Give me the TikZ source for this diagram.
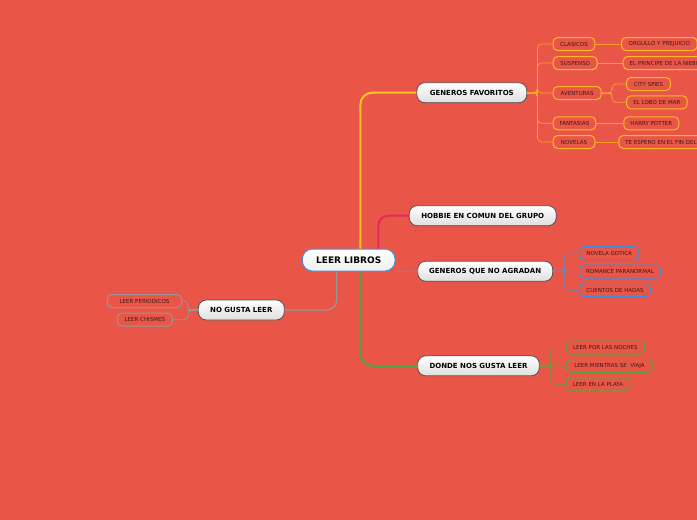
\documentclass[tikz,border=0pt]{standalone}
\usepackage{fontspec}
\setmainfont{DejaVu Sans}
\definecolor{bg}{RGB}{233,86,72}
\definecolor{leaftext}{RGB}{60,25,20}
\definecolor{cyel}{RGB}{252,196,36}
\definecolor{corange}{RGB}{245,160,40}
\definecolor{cyelborder}{RGB}{253,186,40}
\definecolor{cpink}{RGB}{230,38,94}
\definecolor{cblueline}{RGB}{110,135,180}
\definecolor{cblueborder}{RGB}{60,140,222}
\definecolor{cgreen}{RGB}{80,160,70}
\definecolor{colive}{RGB}{120,150,60}
\definecolor{cgreenborder}{RGB}{90,165,60}
\definecolor{cgray}{RGB}{150,150,150}
\definecolor{cnodeborder}{RGB}{80,80,80}
\definecolor{crootborder}{RGB}{75,143,213}
\begin{document}
\begin{tikzpicture}[x=1pt,y=-1pt,
  mainnode/.style={draw=cnodeborder, line width=0.8, rounded corners=8, top color=white, bottom color=gray!25, minimum height=20, inner sep=0, font=\bfseries\fontsize{7}{8}\selectfont, text=black},
  rootnode/.style={draw=crootborder, line width=1, rounded corners=10, top color=white, bottom color=gray!12, minimum height=22, inner sep=0, font=\bfseries\fontsize{9}{10}\selectfont, text=black},
  leaf/.style={line width=1, rounded corners=4.5, minimum height=13, inner xsep=6.5, inner ysep=0, font=\fontsize{5.5}{6}\selectfont, text=leaftext, fill=bg, anchor=west},
  yleaf/.style={leaf, draw=cyelborder},
  bleaf/.style={leaf, draw=cblueborder},
  gleaf/.style={leaf, draw=cgreenborder},
  grleaf/.style={leaf, draw=cgray, anchor=center},
  thinline/.style={line width=0.8, rounded corners=4},
]
\useasboundingbox (0,0) rectangle (697,520);
\fill[bg] (0,0) rectangle (697,520);
\clip (0,0) rectangle (697,520);

% main nodes
\node[rootnode, minimum width=92.7] (root) at (348.7,260) {LEER LIBROS};
\node[mainnode, minimum width=110] (gf) at (471.8,92.7) {GENEROS FAVORITOS};
\node[mainnode, minimum width=147] (hob) at (482.7,215.7) {HOBBIE EN COMUN DEL GRUPO};
\node[mainnode, minimum width=135] (gq) at (485.2,271.2) {GENEROS QUE NO AGRADAN};
\node[mainnode, minimum width=121.6] (dn) at (478.5,365.8) {DONDE NOS GUSTA LEER};
\node[mainnode, minimum width=86] (ngl) at (241.3,310) {NO GUSTA LEER};

% generos favoritos leaves
\node[yleaf, minimum width=41.6] (cla) at (552.7,44) {CLASICOS};
\node[yleaf, minimum width=75.7] (org) at (621,44) {ORGULLO Y PREJUICIO};
\node[yleaf, minimum width=44] (sus) at (552.7,63) {SUSPENSO};
\node[yleaf] (pri) at (622.7,63) {EL PRINCIPE DE LA NIEBLA};
\node[yleaf, minimum width=48] (ave) at (552.7,93) {AVENTURAS};
\node[yleaf, minimum width=44] (city) at (626,84) {CITY SPIES};
\node[yleaf, minimum width=60.7] (lobo) at (626,102.3) {EL LOBO DE MAR};
\node[yleaf, minimum width=41.6] (fan) at (552.7,123.3) {FANTASIAS};
\node[yleaf, minimum width=55] (har) at (623.3,123.3) {HARRY POTTER};
\node[yleaf, minimum width=41.6] (nov) at (552.7,142) {NOVELAS};
\node[yleaf] (te) at (618.3,142) {TE ESPERO EN EL FIN DEL MUNDO};

% generos que no agradan leaves
\node[bleaf, minimum width=59.3] (got) at (579,253) {NOVELA GOTICA};
\node[bleaf, minimum width=81] (rom) at (579,271.7) {ROMANCE PARANORMAL};
\node[bleaf, minimum width=71] (cue) at (579,290.2) {CUENTOS DE HADAS};

% donde nos gusta leer leaves
\node[gleaf, minimum width=78.3] (noc) at (565.7,347.5) {LEER POR LAS NOCHES};
\node[gleaf, minimum width=86.6] (via) at (565.7,366) {LEER MIENTRAS SE\ \ VIAJA};
\node[gleaf, minimum width=63.6] (pla) at (565.7,384.3) {LEER EN LA PLAYA};

% no gusta leer leaves
\node[grleaf, minimum width=74.4] (per) at (144.5,301) {LEER PERIODICOS};
\node[grleaf, minimum width=55] (chi) at (144.8,319.7) {LEER CHISMES};

% root connectors
\draw[cyel, line width=2, rounded corners=12] ([xshift=11.6]root.north) |- (gf.west);
\draw[cpink, line width=2, rounded corners=10] ([xshift=29.6]root.north) |- (hob.west);
\draw[cblueline, line width=1] (root.south east) -- (gq.west);
\draw[cgreen, line width=2, rounded corners=12] ([xshift=11.6]root.south) |- (dn.west);
\draw[cgray, line width=1.2, rounded corners=10] ([xshift=-12]root.south) |- (ngl.east);

% generos favoritos branches
\draw[cyel, line width=2] (gf.east) -- ++(10.3,0) coordinate (gfbus);
\foreach \n in {cla,sus,ave,fan,nov}
  \draw[corange, thinline] (gf.east) -- (gfbus) |- (\n.west);
\draw[corange, thinline] (cla.east) -- (org.west);
\draw[corange, thinline] (sus.east) -- (pri.west);
\draw[corange, thinline] (fan.east) -- (har.west);
\draw[corange, thinline] (nov.east) -- (te.west);
\draw[corange, thinline] (ave.east) -- ++(10.5,0) coordinate (avebus);
\foreach \n in {city,lobo}
  \draw[corange, thinline] (ave.east) -- (avebus) |- (\n.west);

% generos que no agradan branches
\draw[cblueline, line width=1.2] (gq.east) -- ++(11,0) coordinate (gqbus);
\foreach \n in {got,rom,cue}
  \draw[cblueline, thinline] (gq.east) -- (gqbus) |- (\n.west);

% donde nos gusta leer branches
\draw[colive, line width=1.5] (dn.east) -- ++(11,0) coordinate (dnbus);
\foreach \n in {noc,via,pla}
  \draw[colive, thinline] (dn.east) -- (dnbus) |- (\n.west);

% no gusta leer branches
\draw[cgray, line width=1.2] (ngl.west) -- ++(-10,0) coordinate (nglbus);
\foreach \n in {per,chi}
  \draw[cgray, thinline] (ngl.west) -- (nglbus) |- (\n.east);
\end{tikzpicture}
\end{document}
